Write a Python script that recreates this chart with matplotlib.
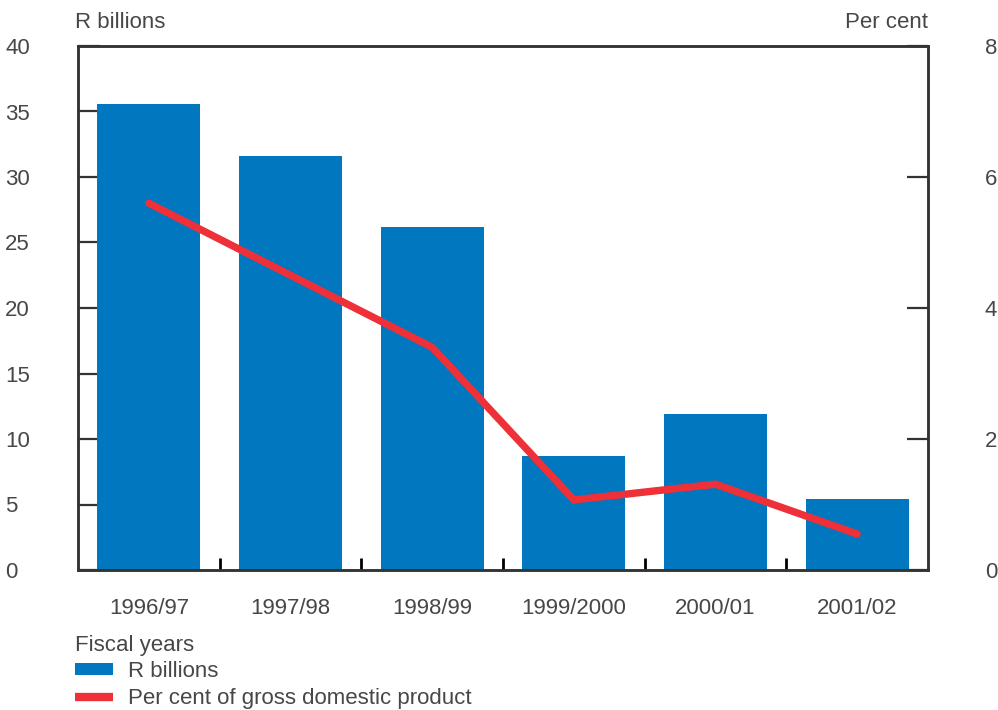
import matplotlib
matplotlib.use("Agg")
import matplotlib.pyplot as plt
from matplotlib.lines import Line2D
from matplotlib.patches import Patch

YEARS = ["1996/97", "1997/98", "1998/99", "1999/2000", "2000/01", "2001/02"]
R_BILLIONS = [35.6, 31.6, 26.2, 8.7, 11.9, 5.4]
PCT_GDP = [5.6, 4.5, 3.4, 1.07, 1.31, 0.55]
LEFT_TICKS = [0, 5, 10, 15, 20, 25, 30, 35, 40]
RIGHT_TICKS = [0, 2, 4, 6, 8]

BLUE = "#0077be"
RED = "#ee3038"
TEXT = "#474747"
SPINE = "#333333"

plt.rcParams["font.family"] = ["Liberation Sans", "DejaVu Sans"]
plt.rcParams["font.size"] = 16
plt.rcParams["text.color"] = TEXT

fig = plt.figure(figsize=(9.98, 7.10), dpi=100)
ax = fig.add_axes([78 / 998, 140 / 710, 850 / 998, 524 / 710])
x = list(range(len(YEARS)))

ax.bar(x, R_BILLIONS, width=0.725, color=BLUE, zorder=2)
ax.set_xlim(-0.5, len(YEARS) - 0.5)
ax.set_ylim(0, 40)
ax.set_yticks(LEFT_TICKS)
ax.tick_params(axis="y", direction="in", length=16, width=1.6, color=SPINE,
               labelcolor=TEXT, pad=52.5)
for lab in ax.get_yticklabels():
    lab.set_horizontalalignment("left")

# category boundaries as major ticks, labels on minor ticks at centers
ax.set_xticks([i + 0.5 for i in x[:-1]])
ax.set_xticklabels([])
ax.tick_params(axis="x", which="major", direction="in", length=9, width=2, color="black")
ax.set_xticks(x, minor=True)
ax.set_xticklabels(YEARS, minor=True)
ax.tick_params(axis="x", which="minor", length=0, pad=20, labelcolor=TEXT)

for s in ax.spines.values():
    s.set_color(SPINE)
    s.set_linewidth(1.8)

ax2 = ax.twinx()
ax2.plot(x, PCT_GDP, color=RED, linewidth=5.3, solid_capstyle="round",
         solid_joinstyle="miter", zorder=3)
ax2.set_ylim(0, 8)
ax2.set_yticks(RIGHT_TICKS)
ax2.tick_params(axis="y", direction="in", length=15, width=1.6, color=SPINE,
                labelcolor=TEXT, pad=41)
for lab in ax2.get_yticklabels():
    lab.set_verticalalignment("center_baseline")
for s in ax2.spines.values():
    s.set_color(SPINE)
    s.set_linewidth(1.8)

fig.text(75 / 998, 1 - 22 / 710, "R billions", ha="left", va="center")
fig.text(928 / 998, 1 - 22 / 710, "Per cent", ha="right", va="center")
fig.text(75 / 998, 1 - 645 / 710, "Fiscal years", ha="left", va="center")

handles = [
    Patch(facecolor=BLUE, edgecolor="none"),
    Line2D([0], [0], color=RED, linewidth=6, solid_capstyle="butt"),
]
fig.legend(handles, ["R billions", "Per cent of gross domestic product"],
           loc="upper left", bbox_to_anchor=(75 / 998, 1 - 661 / 710),
           frameon=False, borderpad=0, borderaxespad=0, handlelength=1.7,
           handleheight=0.45, handletextpad=0.7, labelspacing=0.28)

fig.savefig("out.png", dpi=100)
